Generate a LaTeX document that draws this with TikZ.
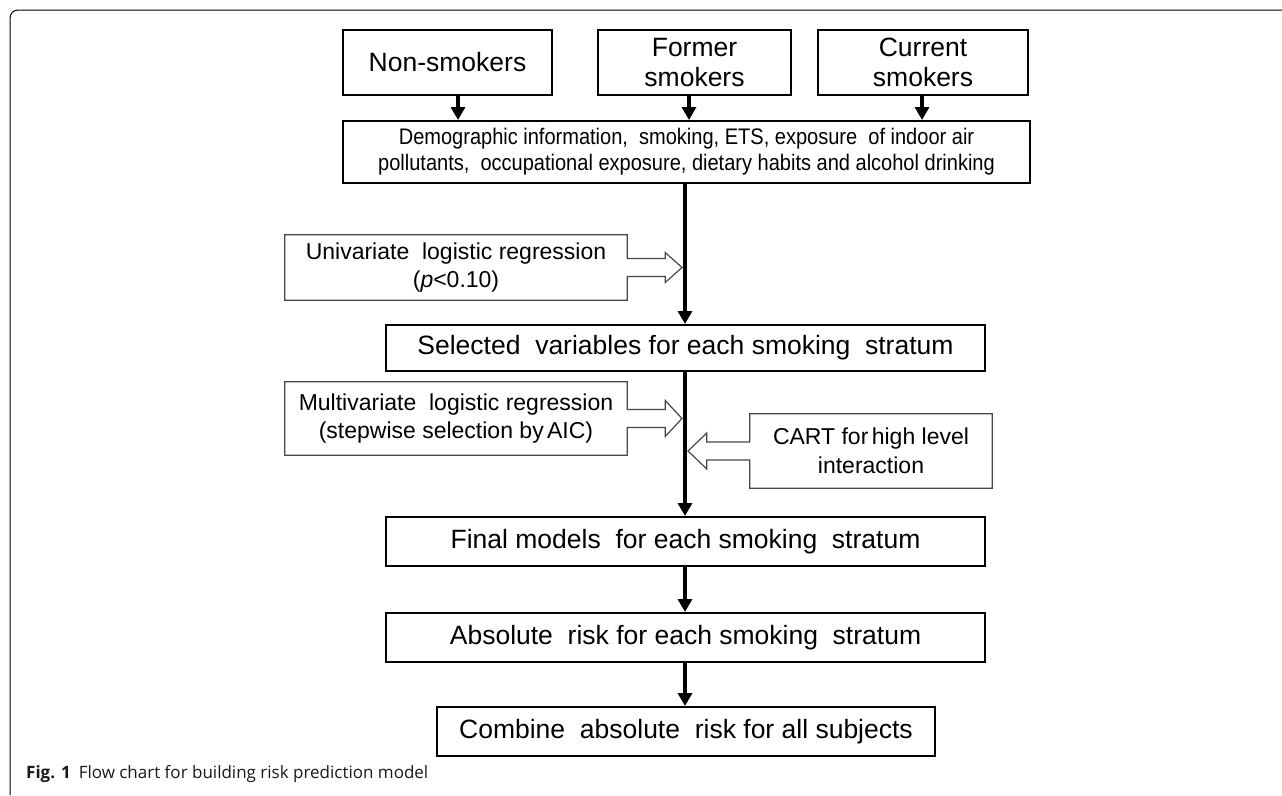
\documentclass[tikz,border=0pt]{standalone}
\usepackage{graphicx}
\usepackage{fontspec}
\setmainfont{Liberation Sans}
\newfontfamily\capfont{Open Sans}
\usetikzlibrary{arrows.meta,calc}
\newcommand{\narrowtxt}[2]{\scalebox{#1}[1]{#2}}
\begin{document}
\begin{tikzpicture}[x=1pt,y=-1pt,
  box/.style={draw=black,line width=2pt,inner sep=0pt,align=center,text=black},
  big/.style={font=\fontsize{26.5}{30}\selectfont},
  mid/.style={font=\fontsize{26.5}{30}\selectfont},
  arr/.style={line width=3.5pt,-{Triangle[length=13pt,width=14pt]}},
  callout/.style={draw=black!72,line width=1.2pt,line join=miter},
  txt/.style={inner sep=0pt,align=center,font=\fontsize{23}{28.5}\selectfont}]
\useasboundingbox (0,0) rectangle (1282,795);
% frame
\draw[line width=1pt,rounded corners=8pt] (1282,10) -- (10,10) -- (10,795);
% top boxes
\node[box,big,minimum width=209pt,minimum height=65pt] (non) at (447.5,62.5) {Non-smokers};
\node[box,big,minimum width=193pt,minimum height=65pt] (former) at (694.5,62.5) {Former\\smokers};
\node[box,big,minimum width=210pt,minimum height=65pt] (current) at (923,62.5) {Current\\smokers};
\node[box,minimum width=687pt,minimum height=62pt,font=\fontsize{22.5}{26}\selectfont] (demo) at (686.5,152)
  {\narrowtxt{0.89}{Demographic information,\ \ smoking, ETS, exposure\ \ of indoor air}\\
   \narrowtxt{0.89}{pollutants,\ \ occupational exposure, dietary habits and alcohol drinking}};
% arrows from top boxes
\path ([xshift=10.5pt]non.south) coordinate (a1);
\path ([xshift=-5.5pt]former.south) coordinate (a2);
\path ([xshift=-1pt]current.south) coordinate (a3);
\draw[arr] (a1) -- (a1 |- demo.north);
\draw[arr] (a2) -- (a2 |- demo.north);
\draw[arr] (a3) -- (a3 |- demo.north);
% main column
\node[box,mid,minimum width=599pt,minimum height=46pt] (sel) at (685.5,348) {Selected\ \ variables for each smoking\ \ stratum};
\node[box,mid,minimum width=599pt,minimum height=49pt] (final) at (685.5,541.5) {Final models\ \ for each smoking\ \ stratum};
\node[box,mid,minimum width=599pt,minimum height=49pt] (abs) at (685.5,637.5) {Absolute\ \ risk for each smoking\ \ stratum};
\node[box,mid,minimum width=498pt,minimum height=49pt] (comb) at (686,731.5) {Combine\ \ absolute\ \ risk for all subjects};
\coordinate (spine) at (685,0);
\draw[arr] (spine |- demo.south) -- (spine |- sel.north);
\draw[arr] (spine |- sel.south) -- (spine |- final.north);
\draw[arr] (spine |- final.south) -- (spine |- abs.north);
\draw[arr] (spine |- abs.south) -- (spine |- comb.north);
% callouts
\node[txt,minimum width=342pt,minimum height=65pt] (uni) at (456,267.5)
  {Univariate\ \ logistic regression\\(\textit{p}<0.10)};
\node[txt,minimum width=342pt,minimum height=73pt] (multi) at (456,418.5)
  {Multivariate\ \ logistic regression\\(stepwise selection by\kern-3pt\ AIC)};
\node[txt,minimum width=242pt,minimum height=74pt] (cart) at (871,451)
  {CART for\kern-3pt\ high level\\interaction};
\draw[callout] ([yshift=9pt]uni.east) -- (uni.north east) -- (uni.north west) -- (uni.south west) -- (uni.south east)
  -- ([yshift=-9pt]uni.east) -- ([xshift=38pt,yshift=-9pt]uni.east) -- ([xshift=38pt,yshift=-15pt]uni.east)
  -- ([xshift=-3pt]spine |- uni.east) -- ([xshift=38pt,yshift=15pt]uni.east) -- ([xshift=38pt,yshift=9pt]uni.east) -- cycle;
\draw[callout] ([yshift=9pt]multi.east) -- (multi.north east) -- (multi.north west) -- (multi.south west) -- (multi.south east)
  -- ([yshift=-9pt]multi.east) -- ([xshift=38pt,yshift=-9pt]multi.east) -- ([xshift=38pt,yshift=-18pt]multi.east)
  -- ([xshift=-3pt]spine |- multi.east) -- ([xshift=38pt,yshift=18pt]multi.east) -- ([xshift=38pt,yshift=9pt]multi.east) -- cycle;
\draw[callout] ([yshift=9pt]cart.west) -- (cart.north west) -- (cart.north east) -- (cart.south east) -- (cart.south west)
  -- ([yshift=-9pt]cart.west) -- ([xshift=-43pt,yshift=-9pt]cart.west) -- ([xshift=-43pt,yshift=-18pt]cart.west)
  -- ([xshift=3pt]spine |- cart.west) -- ([xshift=-43pt,yshift=18pt]cart.west) -- ([xshift=-43pt,yshift=9pt]cart.west) -- cycle;
% caption
\node[anchor=base west,inner sep=0pt,text=black!90,font=\capfont\fontsize{17}{19}\selectfont] (cap) at (26,778)
  {\textbf{Fig. 1}\hspace{8pt}Flow chart for building risk prediction model};
\end{tikzpicture}
\end{document}
